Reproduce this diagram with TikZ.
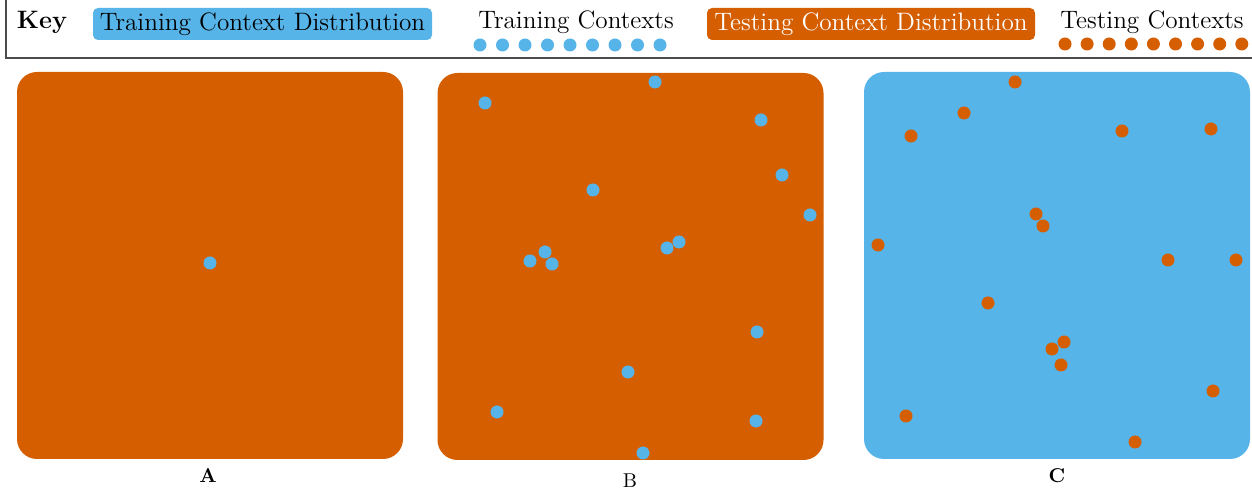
\documentclass[tikz,border=0pt]{standalone}
\definecolor{trainblue}{HTML}{56B4E9}
\definecolor{testorange}{HTML}{D55E00}
\begin{document}
\begin{tikzpicture}[x=0.5pt,y=-0.5pt,inner sep=0pt,outer sep=0pt,
panel/.style={rectangle,rounded corners=10pt,minimum width=193pt,minimum height=193.5pt},
keybox/.style={rectangle,rounded corners=2.5pt,minimum height=16pt,font=\fontsize{12.6}{15}\selectfont},
keytext/.style={font=\fontsize{12.6}{15}\selectfont},
traindot/.style={circle,fill=trainblue,minimum size=6.5pt},
testdot/.style={circle,fill=testorange,minimum size=6.5pt},
panellabel/.style={font=\normalsize}]
\useasboundingbox (0,0) rectangle (1252,490);
% key
\draw[black!70,line width=0.6pt] (6,-5) rectangle (1262,58);
\draw (42,22) node[keytext] (keylabel) {\textbf{Key}};
\draw (262.5,24) node[keybox,fill=trainblue,minimum width=169.5pt] (traindist) {Training Context Distribution};
\draw (576,22) node[keytext] (traintxt) {Training Contexts};
\draw (871,24) node[keybox,fill=testorange,text=white,minimum width=164pt] (testdist) {Testing Context Distribution};
\draw (1152,22) node[keytext] (testtxt) {Testing Contexts};
\foreach \k in {0,...,8} {
  \draw (480+22.5*\k,45) node[traindot] (kt\k) {};
  \draw (1065+22.1*\k,44) node[testdot] (ks\k) {};
}
% panels
\draw (210,265.5) node[panel,fill=testorange] (pA) {};
\draw (630.5,266.5) node[panel,fill=testorange] (pB) {};
\draw (1057,265.5) node[panel,fill=trainblue] (pC) {};
\draw (208,476) node[panellabel] (labA) {\textbf{A}};
\draw (630,481) node[panellabel] (labB) {B};
\draw (1057,476) node[panellabel] (labC) {\textbf{C}};
% contexts
\draw (210,263) node[traindot] (a1) {};
\foreach \x/\y [count=\i] in {485/103,655/82,761/120,782/175,810/215,593/190,679/242,667/248,545/252,530/261,552/264,757/332,628/372,497/412,756/421,643/453}
  \draw (\x,\y) node[traindot] (b\i) {};
\foreach \x/\y [count=\i] in {1015/82,964/113,911/136,1122/131,1211/129,1036/214,1043/226,878/245,1168/260,1236/260,988/303,1064/342,1052/349,1061/365,1213/391,906/416,1135/442}
  \draw (\x,\y) node[testdot] (c\i) {};
\end{tikzpicture}
\end{document}
